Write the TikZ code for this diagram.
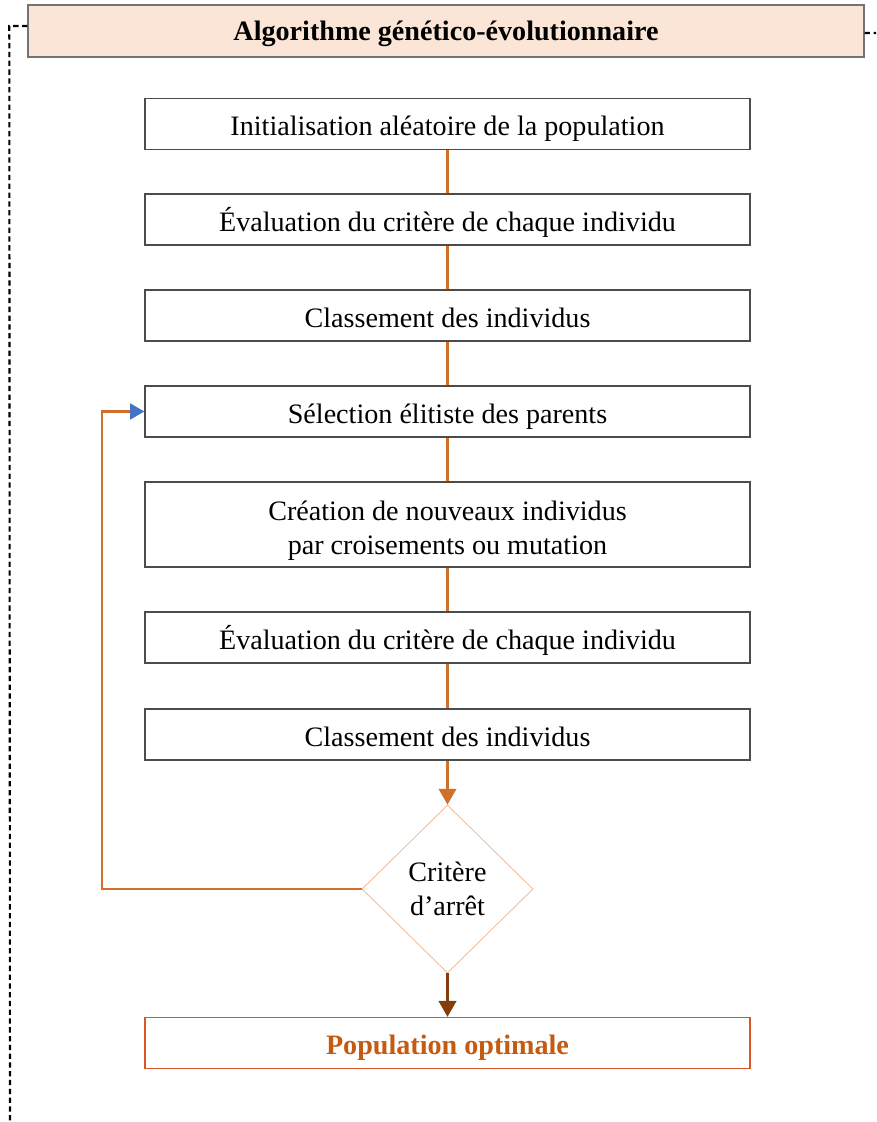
\documentclass[tikz,border=0pt]{standalone}
\usepackage{fontspec}
\setmainfont{Liberation Serif}
\usetikzlibrary{arrows.meta,positioning,shapes.geometric}

\definecolor{titlefill}{HTML}{FBE5D6}
\definecolor{linkorange}{HTML}{D0702C}
\definecolor{linkbrown}{HTML}{843C0C}
\definecolor{tipblue}{HTML}{4472C4}
\definecolor{diamondline}{HTML}{F4B183}
\definecolor{finalline}{HTML}{D9562B}
\definecolor{finaltext}{HTML}{C55A11}

\begin{document}
\begin{tikzpicture}[
  font=\fontsize{16}{19.3}\selectfont,
  stepbox/.style={draw=black!70, thick, rectangle, minimum width=12.1cm, minimum height=1.02cm, align=center, inner sep=2pt, text height=16.5pt, text depth=3pt},
  titlebox/.style={draw=black!55, thick, rectangle, fill=titlefill, minimum width=16.72cm, minimum height=1.04cm, text height=14.3pt, text depth=3pt, font=\fontsize{16}{19}\selectfont\bfseries},
  decision/.style={diamond, draw=diamondline, thin, minimum width=3.42cm, minimum height=3.36cm, inner sep=0pt, align=center},
  finalbox/.style={stepbox, draw=finalline, font=\fontsize{16}{19}\selectfont\bfseries, text=finaltext},
  link/.style={linkorange, line width=1.2pt},
  arr/.style={link, -{Triangle[length=9pt, width=10pt]}}
]
\useasboundingbox (0,0) rectangle (17.52,-22.44);

\node[titlebox] (title) at (8.92,-0.62) {Algorithme génético-évolutionnaire};

\node[stepbox] (init) at (8.95,-2.48) {Initialisation aléatoire de la population};
\node[stepbox] (eval1) at (8.95,-4.39) {Évaluation du critère de chaque individu};
\node[stepbox] (class1) at (8.95,-6.31) {Classement des individus};
\node[stepbox] (sel) at (8.95,-8.23) {Sélection élitiste des parents};
\node[stepbox, minimum height=1.7cm, text height=37.5pt, text depth=3pt] (cre) at (8.95,-10.49) {Création de nouveaux individus\\par croisements ou mutation};
\node[stepbox] (eval2) at (8.95,-12.75) {Évaluation du critère de chaque individu};
\node[stepbox] (class2) at (8.95,-14.69) {Classement des individus};
\node[decision] (crit) at (8.95,-17.78) {Critère\\d’arrêt};
\node[finalbox] (opt) at (8.95,-20.86) {Population optimale};

% cadre en pointillés
\coordinate (frameL) at (0.2,-22.44);
\coordinate (frameR) at (17.52,-0.66);
\draw[densely dashed, line width=1.2pt] (title.west) ++(0,0.1) -- ++(-0.36,0) -- (frameL);
\draw[densely dashed, line width=1.2pt] (title.east) ++(0,-0.04) -- (frameR);

\draw[link] (init) -- (eval1);
\draw[link] (eval1) -- (class1);
\draw[link] (class1) -- (sel);
\draw[link] (sel) -- (cre);
\draw[link] (cre) -- (eval2);
\draw[link] (eval2) -- (class2);
\draw[arr] (class2) -- (crit);
\draw[link, linkbrown, -{Triangle[length=9pt, width=10pt]}] (crit) -- (opt);
\draw[link, -{Triangle[length=8pt, width=9pt, color=tipblue]}] (crit.west) -- ++(-5.2,0) |- (sel.west);
\end{tikzpicture}
\end{document}
